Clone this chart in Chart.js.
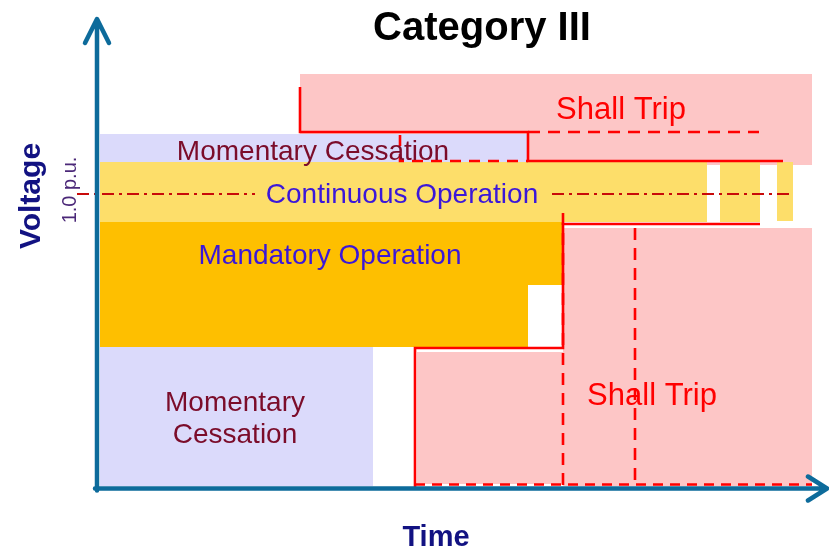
<!DOCTYPE html>
<html>
<head>
<meta charset="utf-8">
<script src="https://cdn.jsdelivr.net/npm/chart.js@4.4.1/dist/chart.umd.min.js"></script>
<style>
  html, body { margin: 0; padding: 0; background: #ffffff; }
  #wrap { width: 829px; height: 548px; }
</style>
</head>
<body>
<div id="wrap"><canvas id="c" width="829" height="548"></canvas></div>
<script>
// ---------- DATA (time / voltage in diagram units) ----------
const zoneNames     = ['Shall Trip', 'Momentary Cessation', 'Continuous Operation', 'Continuous Operation', 'Continuous Operation',
                       'Mandatory Operation', 'Mandatory Operation', 'Momentary Cessation', 'Shall Trip', 'Shall Trip'];
const zoneTimeStart = [202,   2,   2, 622, 679,   2, 430,   2, 319, 465];
const zoneTimeEnd   = [714, 430, 609, 662, 695, 430, 465, 275, 465, 714];
const zoneVoltLow   = [323, 326, 266, 266, 267, 141, 203,   2,   4,   2];
const zoneVoltHigh  = [414, 354, 326, 326, 326, 266, 266, 141, 136, 260];

// trip boundary lines (solid = must trip limit, dashed = alternative limits)
const upperTripTimes   = [202, 202, 430, 430, 685];
const upperTripVolts   = [401, 356, 356, 327, 327];
const upperDashATimes  = [302, 302, 430];
const upperDashAVolts  = [353, 327, 327];
const upperDashBTimes  = [430, 661];
const upperDashBVolts  = [356, 356];
const lowerTripTimes   = [317, 317, 465, 465, 662];
const lowerTripVolts   = [-2, 140, 140, 264, 264];
const lowerDashCTimes  = [465, 465];
const lowerDashCVolts  = [275, 3];
const lowerDashDTimes  = [537, 537];
const lowerDashDVolts  = [260, 3];
const lowerDashETimes  = [317, 714];
const lowerDashEVolts  = [3.5, 3.5];

// nominal 1.0 p.u. line (interrupted by the label)
const nominalVolt      = 294;
const nominalSeg1      = [-21, 157];
const nominalSeg2      = [454, 692];
const nominalLabel     = '1.0 p.u.';

// region labels
const labelTexts = ['Shall Trip', 'Momentary Cessation', 'Continuous Operation', 'Mandatory Operation', 'Momentary', 'Cessation', 'Shall Trip'];
const labelTimes = [523, 215, 304, 232, 137, 137, 554];
const labelVolts = [369, 328, 285, 224, 77, 45, 83];

const chartTitle = 'Category III';
const xTitle = 'Time';
const yTitle = 'Voltage';

// ---------- STYLES ----------
const zoneColors = {
  'Shall Trip': '#FDC6C6',
  'Momentary Cessation': '#DBDAFB',
  'Continuous Operation': '#FDDE6A',
  'Mandatory Operation': '#FEBF00'
};
const labelStyle = {
  'Shall Trip': { color: '#FF0000', size: 31 },
  'Momentary Cessation': { color: '#7B0C2A', size: 28 },
  'Momentary': { color: '#7B0C2A', size: 28 },
  'Cessation': { color: '#7B0C2A', size: 28 },
  'Continuous Operation': { color: '#3B17D9', size: 28 },
  'Mandatory Operation': { color: '#3B17D9', size: 28 }
};
const FONT = "'Liberation Sans', Arial, Helvetica, sans-serif";
const RED = '#FF0000';

const pts = (ts, vs) => ts.map((t, i) => ({ x: t, y: vs[i] }));

const datasets = [];
zoneNames.forEach((name, i) => {
  datasets.push({
    label: name,
    data: [{ x: zoneTimeStart[i], y: zoneVoltHigh[i] }, { x: zoneTimeEnd[i], y: zoneVoltHigh[i] }],
    fill: { value: zoneVoltLow[i] },
    backgroundColor: zoneColors[name],
    borderWidth: 0,
    pointRadius: 0,
    tension: 0
  });
});
function lineDs(ts, vs, dash, color, width) {
  return {
    data: pts(ts, vs),
    fill: false,
    borderColor: color || RED,
    borderWidth: width || 2.6,
    borderDash: dash || [],
    pointRadius: 0,
    tension: 0,
    clip: false,
    borderCapStyle: 'butt',
    borderJoinStyle: 'miter'
  };
}
datasets.push(lineDs(upperTripTimes, upperTripVolts));
datasets.push(lineDs(upperDashATimes, upperDashAVolts, [11, 8]));
datasets.push(lineDs(upperDashBTimes, upperDashBVolts, [12, 8]));
datasets.push(lineDs(lowerTripTimes, lowerTripVolts));
datasets.push(lineDs(lowerDashCTimes, lowerDashCVolts, [12, 8]));
datasets.push(lineDs(lowerDashDTimes, lowerDashDVolts, [12, 8]));
datasets.push(lineDs(lowerDashETimes, lowerDashEVolts, [10, 7]));
datasets.push(lineDs(nominalSeg1, [nominalVolt, nominalVolt], [12, 5, 3, 5], '#C80A0A', 2));
datasets.push(lineDs(nominalSeg2, [nominalVolt, nominalVolt], [12, 5, 3, 5], '#C80A0A', 2));

// later datasets drawn on top
datasets.forEach((d, i) => { d.order = datasets.length - i; });

const decor = {
  id: 'decor',
  afterDatasetsDraw(chart) {
    const ctx = chart.ctx;
    const xs = chart.scales.x, ys = chart.scales.y;
    const a = chart.chartArea;
    ctx.save();
    // region labels
    labelTexts.forEach((t, i) => {
      const st = labelStyle[t];
      ctx.font = st.size + 'px ' + FONT;
      ctx.fillStyle = st.color;
      ctx.textAlign = 'center';
      ctx.textBaseline = 'alphabetic';
      ctx.fillText(t, xs.getPixelForValue(labelTimes[i]), ys.getPixelForValue(labelVolts[i]));
    });
    // axes with arrows
    const ax = a.left - 1, ay = a.bottom + 0.5;
    ctx.strokeStyle = '#0D6B9B';
    ctx.lineWidth = 4.5;
    ctx.lineCap = 'round';
    ctx.lineJoin = 'round';
    ctx.beginPath();
    ctx.moveTo(ax, ay + 2); ctx.lineTo(ax, a.top + 2);
    ctx.moveTo(ax - 12, a.top + 25); ctx.lineTo(ax, a.top + 1); ctx.lineTo(ax + 12, a.top + 25);
    ctx.stroke();
    ctx.beginPath();
    ctx.moveTo(ax - 2, ay); ctx.lineTo(a.right - 2, ay);
    ctx.moveTo(a.right - 20, ay - 12); ctx.lineTo(a.right - 1, ay); ctx.lineTo(a.right - 20, ay + 12);
    ctx.stroke();
    // title
    ctx.fillStyle = '#000000';
    ctx.font = 'bold 40px ' + FONT;
    ctx.textAlign = 'center';
    ctx.fillText(chartTitle, 482, 40);
    // x title
    ctx.fillStyle = '#121282';
    ctx.font = 'bold 29px ' + FONT;
    ctx.fillText(xTitle, 436, 546);
    // y title (rotated)
    ctx.save();
    ctx.translate(40, 196);
    ctx.rotate(-Math.PI / 2);
    ctx.font = 'bold 30px ' + FONT;
    ctx.fillText(yTitle, 0, 0);
    ctx.restore();
    // 1.0 p.u. tick label
    ctx.save();
    ctx.translate(76, ys.getPixelForValue(nominalVolt) - 4);
    ctx.rotate(-Math.PI / 2);
    ctx.fillStyle = '#4B2878';
    ctx.font = '20px ' + FONT;
    ctx.fillText(nominalLabel, 0, 0);
    ctx.restore();
    ctx.restore();
  }
};

new Chart(document.getElementById('c'), {
  type: 'line',
  data: { datasets },
  options: {
    responsive: false,
    animation: false,
    events: [],
    layout: { padding: { left: 98, right: 1, top: 18, bottom: 60 } },
    scales: {
      x: { type: 'linear', min: 0, max: 730, display: false },
      y: { type: 'linear', min: 0, max: 470, display: false }
    },
    plugins: {
      legend: { display: false },
      title: { display: false },
      tooltip: { enabled: false },
      filler: { drawTime: 'beforeDatasetDraw' }
    }
  },
  plugins: [decor]
});
</script>
</body>
</html>
